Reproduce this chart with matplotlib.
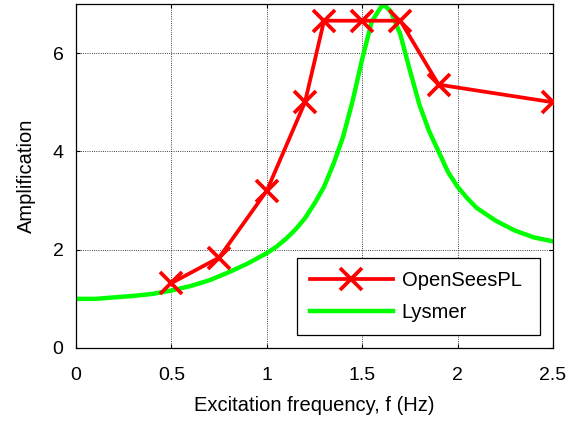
import matplotlib
matplotlib.use("Agg")
import matplotlib.pyplot as plt

plt.rcParams["font.family"] = ["Liberation Sans", "DejaVu Sans"]

# OpenSeesPL results
f_opensees = [0.5, 0.75, 1.0, 1.2, 1.3, 1.5, 1.7, 1.9, 2.5]
amp_opensees = [1.32, 1.84, 3.2, 5.0, 6.66, 6.66, 6.66, 5.36, 5.0]

# Lysmer solution
f_lysmer = [0.0, 0.1, 0.2, 0.3, 0.4, 0.5, 0.6, 0.7, 0.8, 0.9, 1.0, 1.05, 1.1,
            1.15, 1.2, 1.25, 1.3, 1.35, 1.4, 1.45, 1.5, 1.55, 1.6, 1.62, 1.65,
            1.7, 1.75, 1.8, 1.85, 1.9, 1.95, 2.0, 2.05, 2.1, 2.2, 2.3, 2.4, 2.5]
amp_lysmer = [1.0, 1.0, 1.03, 1.06, 1.1, 1.17, 1.26, 1.38, 1.54, 1.72, 1.93, 2.06,
              2.22, 2.41, 2.64, 2.94, 3.28, 3.75, 4.3, 5.03, 5.88, 6.64, 6.95, 6.96,
              6.85, 6.38, 5.65, 4.95, 4.42, 4.0, 3.58, 3.28, 3.05, 2.85, 2.59,
              2.39, 2.25, 2.17]

fig = plt.figure(figsize=(5.74, 4.21), dpi=100)
ax = fig.add_axes([0.1324, 0.1734, 0.831, 0.8171])

ax.plot(f_opensees, amp_opensees, color="#ff0000", lw=2.7, marker="x",
        markersize=16, markeredgewidth=2.7, label="OpenSeesPL", zorder=3)
ax.plot(f_lysmer, amp_lysmer, color="#00ff00", lw=3.2, label="Lysmer", zorder=2)

ax.set_xlim(0, 2.5)
ax.set_ylim(0, 7)
ax.set_xticks([0, 0.5, 1, 1.5, 2, 2.5])
ax.set_xticklabels(["0", "0.5", "1", "1.5", "2", "2.5"])
ax.set_yticks([0, 2, 4, 6])
ax.grid(True, color="black", linestyle=":", linewidth=0.6)
ax.tick_params(direction="in", top=True, right=True, labelsize=14, length=3)
ax.tick_params(axis="x", pad=14)
ax.tick_params(axis="y", pad=9)
for s in ax.spines.values():
    s.set_linewidth(0.9)

ax.set_xlabel("Excitation frequency, f (Hz)", fontsize=14.5, labelpad=8)
ax.set_ylabel("Amplification", fontsize=14.5, labelpad=12)

leg = ax.legend(loc="lower left", bbox_to_anchor=(0.463, 0.038, 0.51, 0.221),
                mode="expand", fontsize=14.5, fancybox=False, edgecolor="black",
                framealpha=1, handlelength=4.1, handletextpad=0.45,
                borderaxespad=0, borderpad=0.65, labelspacing=0.65)
leg.get_frame().set_linewidth(0.9)

fig.savefig("out.png", dpi=100)
